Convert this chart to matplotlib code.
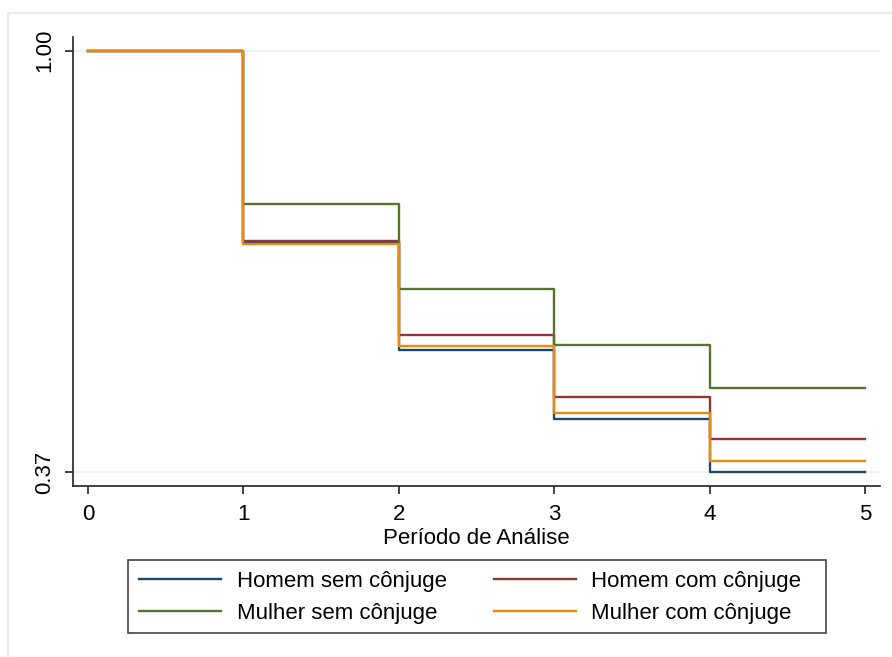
import numpy as np
import matplotlib.pyplot as plt
from matplotlib.patches import Rectangle

plt.rcParams['font.family'] = ['Liberation Sans', 'DejaVu Sans']

# survival estimates per period
periods = [0, 1, 2, 3, 4, 5]
homem_sem = [1.0, 0.714, 0.553, 0.450, 0.370]
homem_com = [1.0, 0.716, 0.575, 0.482, 0.420]
mulher_sem = [1.0, 0.771, 0.644, 0.560, 0.496]
mulher_com = [1.0, 0.711, 0.558, 0.459, 0.387]

labels = ['Homem sem cônjuge', 'Homem com cônjuge', 'Mulher sem cônjuge', 'Mulher com cônjuge']
colors = ['#1a476f', '#90353b', '#55752f', '#ec8a0c']
series = [homem_sem, homem_com, mulher_sem, mulher_com]

W, H = 892, 657
fig = plt.figure(figsize=(W/100, H/100), dpi=100)
# light outer frame like the stata graph region
fig.patches.append(Rectangle((8/W, -0.05), 1.0, (H-13)/H + 0.05, transform=fig.transFigure,
                             fill=False, edgecolor='#e4e9ea', lw=1.2))

ax = fig.add_axes([73/W, (H-486)/H, (880-73)/W, (486-36.7)/H])

handles = []
for s, c, lab in zip(series, colors, labels):
    y = s + [s[-1]]
    h, = ax.step(periods, y, where='post', color=c, lw=1.7, label=lab)
    handles.append(h)

ax.set_xlim(-0.097, 5.097)
ax.set_ylim(0.3495, 1.021)
ax.set_xticks(periods)
ax.set_yticks([0.37, 1.00])
ax.set_yticklabels(['0.37', '1.00'], rotation=90, va='center')
for yv in [0.37, 1.00]:
    ax.axhline(yv, color='#eaf2f3', lw=1.2, zorder=0)

for side in ['top', 'right']:
    ax.spines[side].set_visible(False)
for side in ['left', 'bottom']:
    ax.spines[side].set_color('#222222')
    ax.spines[side].set_linewidth(1.2)
ax.tick_params(axis='both', labelsize=16, length=6, width=1.2, color='#222222', pad=7)
ax.set_xlabel('Período de Análise', fontsize=16, labelpad=2)

# legend box drawn separately (stata leaves extra room on the right)
fig.patches.append(Rectangle((128/W, (H-633)/H), (826-128)/W, 73/H, transform=fig.transFigure,
                             fill=False, edgecolor='#444444', lw=1.2))
order = [0, 2, 1, 3]
fig.legend([handles[i] for i in order], [labels[i] for i in order], ncol=2,
           loc='upper left', bbox_to_anchor=(128/W, (H-560)/H), borderaxespad=0,
           fontsize=16, frameon=False,
           handlelength=3.7, handletextpad=0.7, columnspacing=2.1,
           borderpad=0.5, labelspacing=0.5)

fig.savefig('out.png', dpi=100)
